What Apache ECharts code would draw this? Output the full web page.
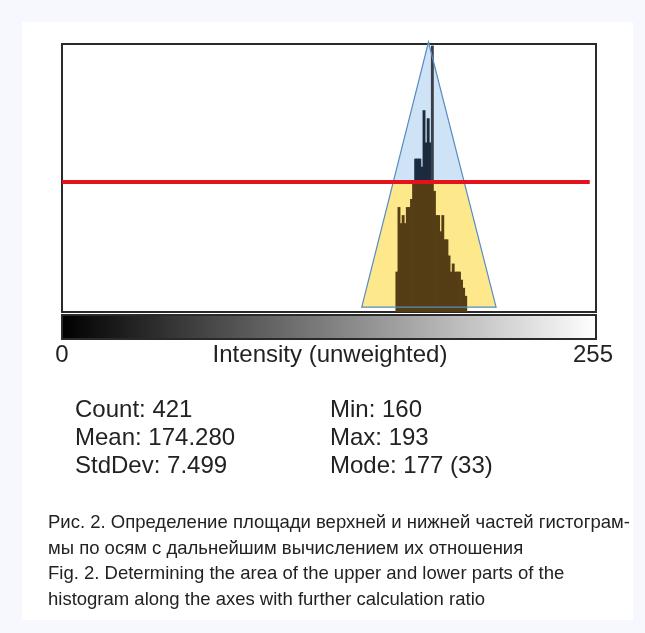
<!DOCTYPE html>
<html>
<head>
<meta charset="utf-8">
<script src="https://cdn.jsdelivr.net/npm/echarts@6/dist/echarts.min.js"></script>
<style>
html,body{margin:0;padding:0;background:#f6f8fd;}
#chart{width:645px;height:633px;}
</style>
</head>
<body>
<div id="chart"></div>
<script>
// Histogram bins (intensity) and counts
const bins   = [160,161,162,163,164,165,166,167,168,169,170,171,172,173,174,175,176,177,178,179,180,181,182,183,184,185,186,187,188,189,190,191,192,193];
const counts = [5,13,11,12,11,13,13,14,16,19,19,19,18,25,21,24,21,33,15,12,12,10,12,9,9,7,5,6,5,5,5,4,3,2];
// Triangle (bin, count): base left, apex, base right
const triangle = [[143.7, 0.6], [175.7, 33.45], [208.1, 0.6]];
// Horizontal separating line level (count) and its x extent (bins)
const redLevel = 16.1;
const redLine = [[0, 16.1], [253, 16.1]];
// Axis end labels
const axisLabels = ["0", "Intensity (unweighted)", "255"];
// Stats
const statsLeft  = ["Count: 421", "Mean: 174.280", "StdDev: 7.499"];
const statsRight = ["Min: 160", "Max: 193", "Mode: 177 (33)"];
// Caption
const caption = [
  "Рис. 2. Определение площади верхней и нижней частей гистограм-",
  "мы по осям с дальнейшим вычислением их отношения",
  "Fig. 2. Determining the area of the upper and lower parts of the",
  "histogram along the axes with further calculation ratio"
];

const FONT = '"Liberation Sans", Arial, sans-serif';
const chart = echarts.init(document.getElementById('chart'), null, {renderer: 'canvas'});

function lerpEdge(a, b, level) {
  const t = (level - a[1]) / (b[1] - a[1]);
  return [a[0] + t * (b[0] - a[0]), level];
}

const graphics = [
  {type: 'rect', shape: {x: 22, y: 22, width: 611, height: 598}, style: {fill: '#ffffff'}, z: -10},
  {type: 'rect', shape: {x: 62, y: 315, width: 534, height: 24},
   style: {fill: new echarts.graphic.LinearGradient(0, 0, 1, 0, [{offset: 0, color: '#000000'}, {offset: 1, color: '#ffffff'}]),
           stroke: '#2a2a2a', lineWidth: 2}, z: 10},
  {type: 'text', style: {text: axisLabels[0], x: 62, y: 355, align: 'center', verticalAlign: 'middle', font: '24px ' + FONT, fill: '#222'}},
  {type: 'text', style: {text: axisLabels[1], x: 330, y: 355, align: 'center', verticalAlign: 'middle', font: '24px ' + FONT, fill: '#222'}},
  {type: 'text', style: {text: axisLabels[2], x: 593, y: 355, align: 'center', verticalAlign: 'middle', font: '24px ' + FONT, fill: '#222'}}
];
statsLeft.forEach((s, i) => graphics.push({type: 'text', style: {text: s, x: 75, y: 410 + i * 28, verticalAlign: 'middle', font: '24px ' + FONT, fill: '#222'}}));
statsRight.forEach((s, i) => graphics.push({type: 'text', style: {text: s, x: 330, y: 410 + i * 28, verticalAlign: 'middle', font: '24px ' + FONT, fill: '#222'}}));
caption.forEach((s, i) => graphics.push({type: 'text', style: {text: s, x: 48, y: 523 + i * 25.7, verticalAlign: 'middle', font: '18.5px ' + FONT, fill: '#222'}}));

const option = {
  backgroundColor: '#f6f8fd',
  animation: false,
  grid: {left: 62, right: 49, top: 44, bottom: 321, show: true, backgroundColor: '#ffffff', borderColor: '#2a2a2a', borderWidth: 2},
  xAxis: {type: 'value', min: 0, max: 256, show: false},
  yAxis: {type: 'value', min: 0, max: 33.2, show: false},
  graphic: graphics,
  series: [
    {
      type: 'custom', z: 1, silent: true, clip: false,
      data: [0],
      renderItem: function (params, api) {
        const pts = triangle.map(p => api.coord(p));
        const bl = triangle[0], ap = triangle[1], br = triangle[2];
        const l = lerpEdge(bl, ap, redLevel), r = lerpEdge(br, ap, redLevel);
        const trap = [bl, br, r, l].map(p => api.coord(p));
        return {type: 'group', children: [
          {type: 'polygon', shape: {points: pts}, style: {fill: '#cfe3f6'}},
          {type: 'polygon', shape: {points: trap}, style: {fill: '#fde98c'}}
        ]};
      }
    },
    {
      type: 'custom', z: 3, silent: true,
      data: bins.map((b, i) => [b, counts[i]]),
      renderItem: function (params, api) {
        const b = api.value(0), c = api.value(1);
        const p0 = api.coord([b, 0]);
        const p1 = api.coord([b + 1, c]);
        const pm = api.coord([b + 1, Math.min(c, redLevel)]);
        const w = p1[0] - p0[0];
        const children = [
          {type: 'rect', shape: {x: p0[0] - 0.3, y: pm[1], width: w + 0.8, height: p0[1] - pm[1]}, style: {fill: '#553d16'}}
        ];
        if (c > redLevel) {
          children.push({type: 'rect', shape: {x: p0[0] - 0.3, y: p1[1], width: w + 0.8, height: pm[1] - p1[1]}, style: {fill: c >= 30 ? '#3a3f48' : '#1b2b40'}});
        }
        return {type: 'group', children: children};
      }
    },
    {
      type: 'custom', z: 4, silent: true, clip: false,
      data: [0],
      renderItem: function (params, api) {
        const pts = triangle.map(p => api.coord(p));
        return {type: 'polygon', shape: {points: pts}, style: {fill: 'none', stroke: '#5a8cc2', lineWidth: 1.2}};
      }
    },
    {
      type: 'line', z: 5, silent: true, symbol: 'none',
      data: redLine,
      lineStyle: {color: '#e3121b', width: 4}
    }
  ]
};
chart.setOption(option);
</script>
</body>
</html>
